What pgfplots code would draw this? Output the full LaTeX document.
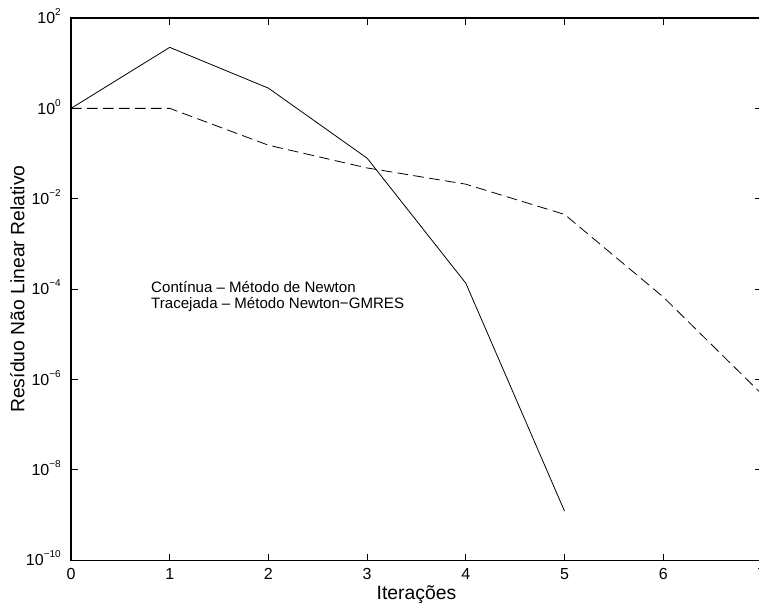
\documentclass[border=0pt]{standalone}
\usepackage{fontspec}
\setmainfont{Liberation Sans}
\usepackage{pgfplots}
\pgfplotsset{compat=1.18}

% power-of-ten tick label: "10" with a small raised exponent
\newcommand{\pten}[1]{10\raisebox{6pt}{\fontsize{7.5}{8}\selectfont #1}}

\begin{document}
\begin{tikzpicture}
\begin{axis}[
  name=ax,
  scale only axis,
  width=518pt, height=406.5pt,
  xmin=0, xmax=7,
  ymode=log, ymin=1e-10, ymax=1e2,
  xtick={0,1,...,7},
  ytick={1e-10,1e-8,1e-6,1e-4,1e-2,1,1e2},
  yticklabels={\pten{−10},\pten{−8},\pten{−6},\pten{−4},\pten{−2},\pten{0},\pten{2}},
  minor ytick={},
  tick align=inside,
  major tick length=5pt,
  tick style={black, line width=0.6pt},
  axis line style={line width=1pt},
  /pgf/number format/assume math mode=true,
  tick label style={font=\fontsize{12}{14}\selectfont},
  xticklabel style={inner sep=0pt, yshift=-6pt},
  yticklabel style={anchor=base east, inner sep=0pt, xshift=-7.5pt, yshift=-4.3pt},
  label style={font=\fontsize{14.5}{17}\selectfont},
  xlabel={Iterações},
  xlabel style={at={(axis description cs:0.5,0)}, anchor=north, inner sep=0pt, yshift=-18.5pt},
  ylabel={Resíduo Não Linear Relativo},
  ylabel style={at={(axis description cs:0,0.5)}, anchor=base, inner sep=0pt, yshift=35pt},
  clip=false,
]
% Newton
\addplot[black, line width=0.6pt] coordinates {
  (0,1) (1,22.4) (2,2.8) (3,0.079) (4,1.35e-4) (5,1.22e-9)
};
% Newton-GMRES
\addplot[black, line width=0.6pt, dash pattern=on 8pt off 4pt] coordinates {
  (0,1) (1,1) (2,0.153) (3,0.048) (4,0.021) (5,0.0045) (6,6.7e-5) (7,4.7e-7)
};
\node[anchor=base west, align=left, inner sep=0pt,
      font=\fontsize{11.3}{11.5}\selectfont]
  at (axis cs:0.81,3.8e-5) {Contínua – Método de Newton\\Tracejada – Método Newton−GMRES};
\end{axis}
\pgfresetboundingbox
\path[use as bounding box] ([shift={(-53.25pt,-37.5pt)}]ax.south west)
  rectangle ([shift={(-2.2pt,13.5pt)}]ax.north east);
\end{tikzpicture}
\end{document}
